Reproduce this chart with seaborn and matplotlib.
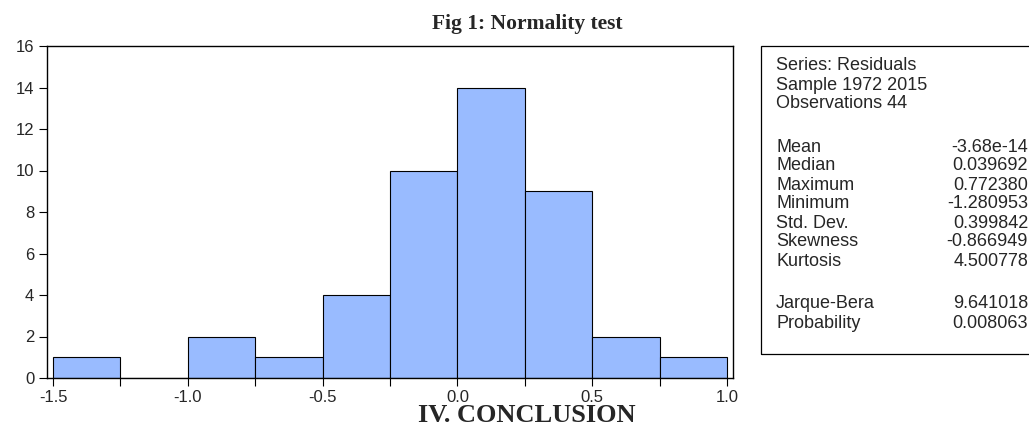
import seaborn as sns
import matplotlib.pyplot as plt
import matplotlib.ticker as mticker
from matplotlib.patches import Rectangle
import numpy as np
import pandas as pd

# Histogram of residuals (bin edges and counts)
bin_edges = [-1.5, -1.25, -1.0, -0.75, -0.5, -0.25, 0.0, 0.25, 0.5, 0.75, 1.0]
counts = [1, 0, 2, 1, 4, 10, 14, 9, 2, 1]

# Summary statistics box
stat_labels = ["Mean", "Median", "Maximum", "Minimum", "Std. Dev.",
               "Skewness", "Kurtosis"]
stat_values = ["-3.68e-14", "0.039692", "0.772380", "-1.280953", "0.399842",
               "-0.866949", "4.500778"]
test_labels = ["Jarque-Bera", "Probability"]
test_values = ["9.641018", "0.008063"]
header_lines = ["Series: Residuals", "Sample 1972 2015", "Observations 44"]

centers = [(a + b) / 2 for a, b in zip(bin_edges[:-1], bin_edges[1:])]
df = pd.DataFrame({"resid": centers, "n": counts})

sns.set_style("white")
plt.rcParams["font.family"] = ["Liberation Sans", "DejaVu Sans"]

W, H = 1029, 430
fig = plt.figure(figsize=(W / 100, H / 100), dpi=100)
ax = fig.add_axes([46.7 / W, 1 - 378 / H, (733 - 46.7) / W, (378 - 46) / H])

sns.histplot(data=df, x="resid", weights="n", bins=bin_edges, ax=ax,
             color="#99bbff", alpha=1, edgecolor="black", linewidth=0.8)

ax.set_xlim(-1.5234, 1.022)
ax.set_ylim(0, 16)
ax.xaxis.set_major_locator(mticker.MultipleLocator(0.5))
ax.xaxis.set_minor_locator(mticker.MultipleLocator(0.25))
ax.yaxis.set_major_locator(mticker.MultipleLocator(2))
ax.xaxis.set_major_formatter(mticker.FormatStrFormatter("%.1f"))
ax.tick_params(axis="both", which="both", direction="out", length=6,
               width=0.8, color="black", labelsize=12, pad=3,
               bottom=True, left=True)
ax.set_xlabel("")
ax.set_ylabel("")
for s in ax.spines.values():
    s.set_color("black")
    s.set_linewidth(1.0)

# Stats box
fig.patches.append(Rectangle((761 / W, 1 - 354 / H), 300 / W, (354 - 46) / H,
                             transform=fig.transFigure, fill=False,
                             edgecolor="black", linewidth=0.9))
lx, rx = 776 / W, 1028 / W
fs = 13
ypix = [66, 85, 104]
for t, yp in zip(header_lines, ypix):
    fig.text(lx, 1 - yp / H, t, fontsize=fs, va="center", ha="left")
ypix = [147, 166, 185, 204, 223, 242, 262]
for lab, val, yp in zip(stat_labels, stat_values, ypix):
    fig.text(lx, 1 - yp / H, lab, fontsize=fs, va="center", ha="left")
    fig.text(rx, 1 - yp / H, val, fontsize=fs, va="center", ha="right")
ypix = [304, 323]
for lab, val, yp in zip(test_labels, test_values, ypix):
    fig.text(lx, 1 - yp / H, lab, fontsize=fs, va="center", ha="left")
    fig.text(rx, 1 - yp / H, val, fontsize=fs, va="center", ha="right")

fig.text(527 / W, 1 - 24 / H, "Fig 1: Normality test", fontsize=15.5,
         fontweight="bold", family="Liberation Serif", ha="center", va="center")
fig.text(527 / W, 1 - 404 / H, "IV. CONCLUSION", fontsize=19,
         fontweight="bold", family="Liberation Serif", ha="center", va="top")

fig.savefig("out.png", dpi=100)
